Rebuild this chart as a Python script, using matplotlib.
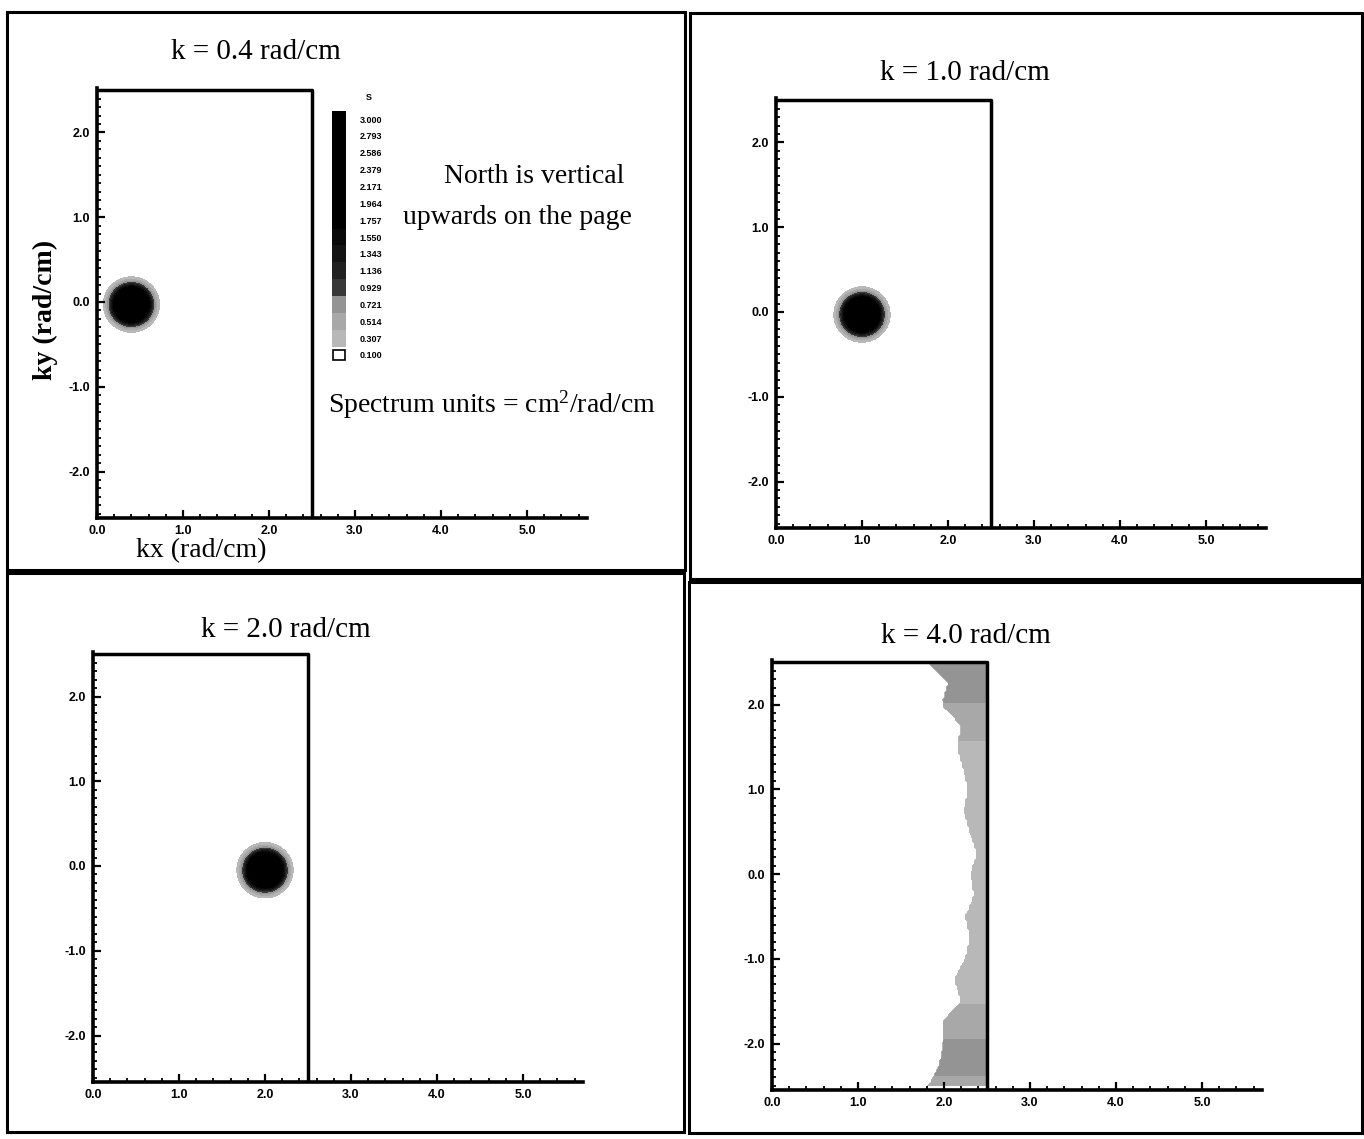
import numpy as np
import matplotlib
matplotlib.use("Agg")
import matplotlib.pyplot as plt
from matplotlib.colors import ListedColormap, BoundaryNorm
from matplotlib.patches import Rectangle
from matplotlib.ticker import MultipleLocator, FormatStrFormatter

plt.rcParams['mathtext.fontset'] = 'custom'
plt.rcParams['mathtext.rm'] = 'Liberation Serif'
plt.rcParams['mathtext.it'] = 'Liberation Serif'

# ---------------- data ----------------
panel_titles = ["k = 0.4 rad/cm", "k = 1.0 rad/cm", "k = 2.0 rad/cm", "k = 4.0 rad/cm"]
levels = [0.100, 0.307, 0.514, 0.721, 0.929, 1.136, 1.343, 1.550, 1.757,
          1.964, 2.171, 2.379, 2.586, 2.793, 3.000]
level_labels = ["0.100", "0.307", "0.514", "0.721", "0.929", "1.136", "1.343", "1.550",
                "1.757", "1.964", "2.171", "2.379", "2.586", "2.793", "3.000"]
level_grays = [1.0, 0.72, 0.66, 0.58, 0.22, 0.13, 0.08, 0.04, 0.0,
               0.0, 0.0, 0.0, 0.0, 0.0, 0.0]

# spectral peaks for the first three panels
spot_kx = [0.40, 1.00, 2.00]
spot_ky = [-0.03, -0.03, -0.05]
spot_peak = [6.0, 6.0, 6.0]
spot_sigma = [0.134, 0.134, 0.134]

# k = 4.0 panel: energy band near the kx = 2.5 boundary
band_ky = [-2.5, -2.25, -2.0, -1.75, -1.5, -1.25, -1.0, -0.75, -0.5, -0.25, 0.0,
           0.25, 0.5, 0.75, 1.0, 1.25, 1.5, 1.75, 2.0, 2.25, 2.5]
band_edge = [1.82, 1.95, 2.00, 1.98, 2.20, 2.12, 2.25, 2.30, 2.25, 2.35, 2.31,
             2.38, 2.30, 2.23, 2.28, 2.22, 2.16, 2.20, 1.98, 2.05, 1.82]
band_peak = [0.60, 0.85, 0.75, 0.60, 0.50, 0.45, 0.45, 0.45, 0.40, 0.40, 0.40,
             0.40, 0.45, 0.40, 0.40, 0.45, 0.50, 0.55, 0.70, 0.90, 0.70]

x_ticks = [0.0, 1.0, 2.0, 3.0, 4.0, 5.0]
y_ticks = [-2.0, -1.0, 0.0, 1.0, 2.0]
domain_kx = 2.5
domain_ky = 2.5

# ---------------- figure ----------------
W, H = 1364, 1139
fig = plt.figure(figsize=(W / 100, H / 100), dpi=100)

def fx(px):
    return px / W

def fy(py):
    return 1 - py / H

# panel frames (pixels: x0, y0, x1, y1)
frames = [(7, 12, 685, 570), (690, 13, 1362, 579), (7, 573, 684, 1132), (689, 582, 1362, 1133)]
for (x0, y0, x1, y1) in frames:
    fig.patches.append(Rectangle((fx(x0), fy(y1)), fx(x1) - fx(x0), fy(y0) - fy(y1),
                                 transform=fig.transFigure, fill=False, lw=2.2,
                                 edgecolor='black'))

# axes origin (pixel of kx=0 and ky=0)
origins = [(97, 302), (776, 312), (93, 866), (772, 874)]
sx, sy = 86.0, 84.75
xmax, ymin, ymax = 5.7, -2.55, 2.52
title_pos = [(256, 52), (965, 73), (286, 630), (966, 636)]

cmap = ListedColormap([(g, g, g) for g in level_grays])
bounds = levels + [1e6]
norm = BoundaryNorm(bounds, cmap.N)

kx = np.arange(0.0, domain_kx + 1e-9, 0.02)
ky = np.arange(-domain_ky, domain_ky + 1e-9, 0.02)
KX, KY = np.meshgrid(kx, ky)

for i, (ox, oy) in enumerate(origins):
    left = fx(ox)
    width = xmax * sx / W
    top_px = oy - ymax * sy
    bot_px = oy - ymin * sy
    ax = fig.add_axes([left, fy(bot_px), width, (bot_px - top_px) / H])
    ax.set_xlim(0, xmax)
    ax.set_ylim(ymin, ymax)
    ax.patch.set_alpha(0)

    if i < 3:
        Z = spot_peak[i] * np.exp(-((KX - spot_kx[i]) ** 2 + (KY - spot_ky[i]) ** 2)
                                  / (2 * spot_sigma[i] ** 2))
    else:
        edge_row = np.interp(KY, band_ky, band_edge)
        peak_row = np.interp(KY, band_ky, band_peak)
        Z = np.where(KX >= edge_row, peak_row, 0.0)
    ax.contourf(KX, KY, Z, levels=bounds, cmap=cmap, norm=norm)

    # domain box
    ax.plot([0, domain_kx, domain_kx], [domain_ky, domain_ky, ymin], color='black',
            lw=2.5, solid_capstyle='butt', clip_on=False)

    for s in ['top', 'right']:
        ax.spines[s].set_visible(False)
    for s in ['left', 'bottom']:
        ax.spines[s].set_linewidth(2.6)
    ax.set_xticks(x_ticks)
    ax.set_yticks(y_ticks)
    ax.xaxis.set_minor_locator(MultipleLocator(0.2))
    ax.yaxis.set_minor_locator(MultipleLocator(0.1))
    ax.xaxis.set_major_formatter(FormatStrFormatter('%.1f'))
    ax.yaxis.set_major_formatter(FormatStrFormatter('%.1f'))
    ax.tick_params(which='major', direction='in', length=6, width=1.6)
    ax.tick_params(which='minor', direction='in', length=3, width=1.3)
    ax.tick_params(axis='x', which='major', pad=5)
    ax.tick_params(axis='y', which='major', pad=5)
    for lab in ax.get_xticklabels() + ax.get_yticklabels():
        lab.set_fontfamily('Liberation Sans')
        lab.set_fontweight('bold')
        lab.set_fontsize(9)

    tx, ty = title_pos[i]
    fig.text(fx(tx), fy(ty), panel_titles[i], ha='center', va='center',
             family='Liberation Serif', fontsize=21)

# axis labels on first panel
fig.text(fx(45), fy(310), "ky (rad/cm)", rotation=90, ha='center', va='center',
         family='Liberation Serif', fontsize=20, weight='bold')
fig.text(fx(201), fy(551), "kx (rad/cm)", ha='center', va='center',
         family='Liberation Serif', fontsize=20)

# colour key
cb_top, cb_bot = 110.6, 363.4
cax = fig.add_axes([fx(332), fy(cb_bot), 14 / W, (cb_bot - cb_top) / H])
n = len(levels)
vals = np.array(levels).reshape(-1, 1)
cax.pcolormesh([0, 1], np.arange(n + 1), vals, cmap=cmap, norm=norm)
cax.add_patch(Rectangle((0.05, 0.2), 0.9, 0.6, fill=False, edgecolor='black', lw=1.2))
cax.set_xlim(0, 1)
cax.set_ylim(0, n)
cax.set_xticks([])
cax.set_yticks(np.arange(n) + 0.5)
cax.set_yticklabels(level_labels)
cax.yaxis.tick_right()
cax.tick_params(axis='y', length=0, pad=10)
for lab in cax.get_yticklabels():
    lab.set_fontfamily('Liberation Sans')
    lab.set_fontweight('bold')
    lab.set_fontsize(6.5)
for s in cax.spines.values():
    s.set_visible(False)
fig.text(fx(369), fy(98), "S", ha='center', va='center', family='Liberation Sans',
         weight='bold', fontsize=6.5)

fig.text(fx(534), fy(176), "North is vertical", ha='center', va='center',
         family='Liberation Serif', fontsize=20)
fig.text(fx(517), fy(218), "upwards on the page", ha='center', va='center',
         family='Liberation Serif', fontsize=20)
fig.text(fx(492), fy(405), "Spectrum units = cm$^2$/rad/cm", ha='center', va='center',
         family='Liberation Serif', fontsize=20)

fig.savefig("out.png", dpi=100)
